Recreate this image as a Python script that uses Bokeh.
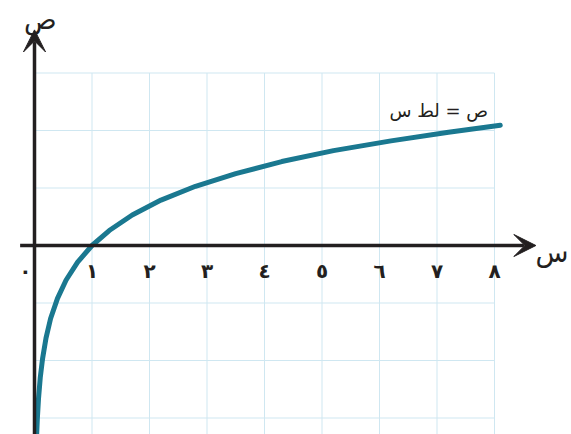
from bokeh.plotting import figure
from bokeh.models import Arrow, VeeHead, Range1d, ColumnDataSource, Label
from bokeh.core.properties import value
from bokeh.embed import file_html
from bokeh.resources import INLINE

# data (curve ص = لط س)
curve_x = [0.035, 0.05, 0.07, 0.1, 0.14, 0.2, 0.28, 0.4, 0.55, 0.75, 1.0, 1.3, 1.7,
           2.2, 2.8, 3.5, 4.3, 5.2, 6.2, 7.2, 8.1]
curve_y = [-3.35, -3.00, -2.66, -2.30, -1.97, -1.61, -1.27, -0.92, -0.60, -0.29, 0.0,
           0.26, 0.53, 0.79, 1.03, 1.25, 1.46, 1.65, 1.82, 1.97, 2.09]
x_ticks = [0, 1, 2, 3, 4, 5, 6, 7, 8]
x_tick_labels = ["٠", "١", "٢", "٣", "٤", "٥", "٦", "٧", "٨"]
y_grid = [-3, -2, -1, 1, 2, 3]
x_grid = [1, 2, 3, 4, 5, 6, 7, 8]
curve_label = "ص = لط س"
x_name = "س"
y_name = "ص"

W, H = 571, 434
S = 57.5
x0 = -34 / S
y1 = 245 / S
ybot = y1 - H / S

p = figure(width=W, height=H, output_backend="svg", toolbar_location=None,
           x_axis_type=None, y_axis_type=None, min_border=0,
           x_range=Range1d(x0, x0 + W / S), y_range=Range1d(ybot, y1))
p.outline_line_color = None
p.background_fill_color = "white"

grid_color = "#cfe7f1"
gtop = max(y_grid)
gright = max(x_grid)
p.segment(x0=x_grid, y0=[ybot] * len(x_grid), x1=x_grid, y1=[gtop] * len(x_grid),
          line_color=grid_color, line_width=1)
p.segment(x0=[0] * len(y_grid), y0=y_grid, x1=[gright] * len(y_grid), y1=y_grid,
          line_color=grid_color, line_width=1)

axis_color = "#231f20"
# x axis
p.add_layout(Arrow(x_start=-0.25, y_start=0, x_end=8.72, y_end=0, line_width=3.5,
                   line_color=axis_color,
                   end=VeeHead(size=22, fill_color=axis_color, line_color=axis_color)))
# y axis
p.add_layout(Arrow(x_start=0, y_start=ybot, x_end=0, y_end=3.75, line_width=3.5,
                   line_color=axis_color,
                   end=VeeHead(size=22, fill_color=axis_color, line_color=axis_color)))

p.line(curve_x, curve_y, line_width=5, line_color="#1a7890", line_cap="round")

tick_x = [(-0.16 if t == 0 else t) for t in x_ticks]
src = ColumnDataSource(dict(x=tick_x, y=[-0.44] * len(x_ticks), t=x_tick_labels))
p.text(x="x", y="y", text="t", source=src, text_font=value("DejaVu Sans"),
       text_font_size="20px", text_font_style="bold", text_color=axis_color,
       text_align="center", text_baseline="middle")

p.add_layout(Label(x=7.03, y=2.35, text=curve_label, text_font="DejaVu Sans",
                   text_font_size="18px", text_color=axis_color, text_align="center",
                   text_baseline="middle"))
p.add_layout(Label(x=9.0, y=-0.12, text=x_name, text_font="DejaVu Sans",
                   text_font_size="27px", text_color=axis_color, text_align="center",
                   text_baseline="alphabetic"))
p.add_layout(Label(x=0.1, y=3.93, text=y_name, text_font="DejaVu Sans",
                   text_font_size="27px", text_color=axis_color, text_align="center",
                   text_baseline="alphabetic"))

open("out.html", "w").write(file_html(p, INLINE))
